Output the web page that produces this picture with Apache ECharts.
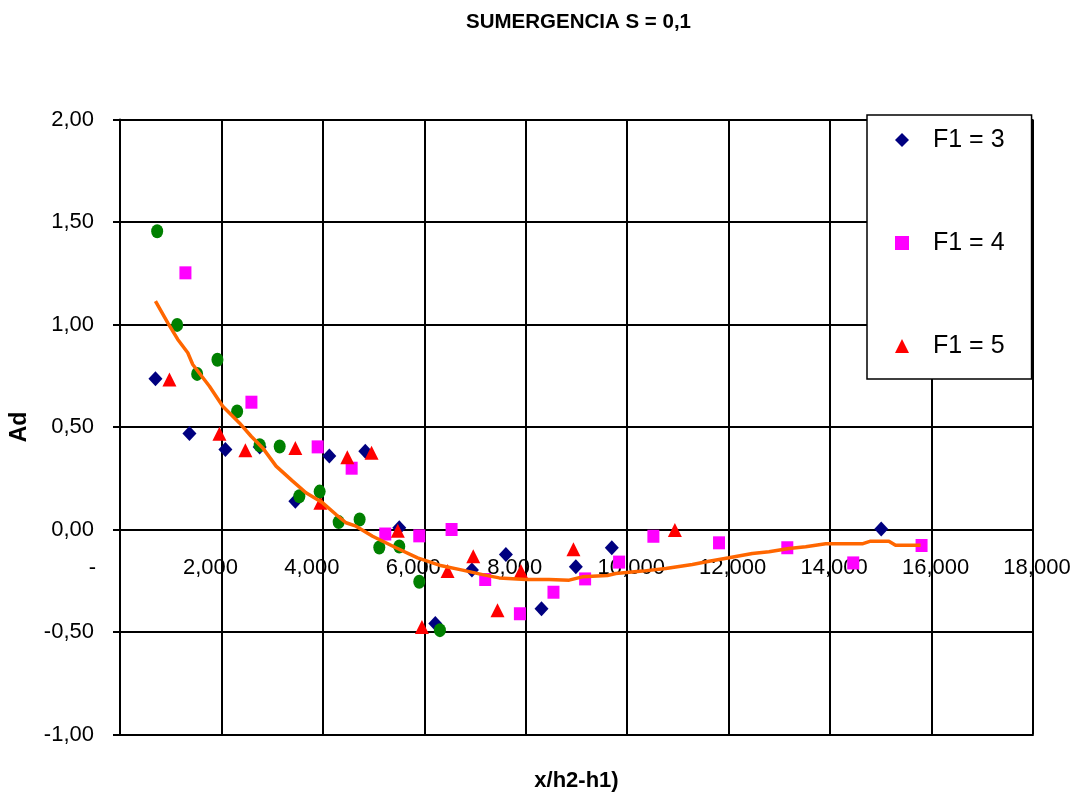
<!DOCTYPE html>
<html>
<head>
<meta charset="utf-8">
<script src="https://cdn.jsdelivr.net/npm/echarts@6/dist/echarts.min.js"></script>
<style>html,body{margin:0;padding:0;background:#fff}#c{width:1074px;height:796px}</style>
</head>
<body>
<div id="c"></div>
<script>
// F1 = 3 (navy diamonds)
var f3X = [699,1369,2078,2754,3457,4127,4836,5506,6216,6938,7608,8310,8987,9696,15008];
var f3Y = [0.735,0.468,0.390,0.403,0.138,0.358,0.382,0.008,-0.459,-0.198,-0.122,-0.387,-0.182,-0.089,0.003];
// F1 = 4 (magenta squares)
var f4X = [1290,2591,3897,4567,5230,5900,6537,7200,7884,8546,9170,9840,10516,11810,13156,14456,15803];
var f4Y = [1.252,0.621,0.403,0.299,-0.022,-0.031,0.0,-0.244,-0.411,-0.306,-0.241,-0.159,-0.033,-0.065,-0.089,-0.163,-0.078];
// F1 = 5 (red triangles)
var f5X = [975,1960,2472,3457,3950,4482,4960,5477,5953,6458,6964,7443,7904,8940,10940];
var f5Y = [0.732,0.467,0.387,0.398,0.130,0.353,0.374,-0.006,-0.475,-0.203,-0.130,-0.394,-0.203,-0.096,-0.002];
// green circles (not in legend)
var gX = [733,1127,1521,1921,2309,2754,3148,3536,3936,4311,4724,5112,5506,5900,6307];
var gY = [1.455,0.998,0.759,0.828,0.576,0.411,0.405,0.162,0.185,0.036,0.049,-0.088,-0.083,-0.255,-0.491];
// orange trend line
var tX = [699,942,1139,1336,1434,1763,2025,2354,2585,2813,3077,3404,3667,3995,4259,4456,4653,4980,5441,5867,6294,6753,7147,7476,8002,8461,8855,9117,9610,9775,10300,10760,11284,11613,12007,12466,12795,13189,13518,13912,14633,14798,15159,15290,15783];
var tY = [1.114,1.008,0.927,0.862,0.805,0.699,0.601,0.520,0.455,0.398,0.309,0.236,0.179,0.130,0.073,0.033,0.016,-0.033,-0.089,-0.138,-0.174,-0.198,-0.220,-0.236,-0.244,-0.244,-0.247,-0.231,-0.224,-0.215,-0.203,-0.190,-0.171,-0.155,-0.138,-0.117,-0.109,-0.093,-0.084,-0.070,-0.070,-0.057,-0.057,-0.077,-0.077];

var legendNames = ['F1 = 3','F1 = 4','F1 = 5'];
var titleText = 'SUMERGENCIA S = 0,1';
var xName = 'x/h2-h1)';
var yName = 'Ad';

function pairs(xs, ys){ return xs.map(function(x,i){ return [x, ys[i]]; }); }
var FONT = 'Liberation Sans, Arial, sans-serif';

var chart = echarts.init(document.getElementById('c'), null, {renderer:'canvas'});
chart.setOption({
  animation: false,
  backgroundColor: '#fff',
  title: {
    text: titleText, left: 466, top: 12, padding: 0,
    textStyle: {fontFamily: FONT, fontWeight: 'bold', fontSize: 20.5, color: '#000'}
  },
  legend: {
    data: legendNames,
    orient: 'vertical',
    left: 867, top: 115,
    padding: [10, 27, 18, 28],
    itemWidth: 14, itemHeight: 14,
    itemGap: 73,
    symbolKeepAspect: true,
    backgroundColor: '#fff',
    borderColor: '#000', borderWidth: 1.5, borderRadius: 0,
    formatter: function(n){ return '{t|' + n + '}'; },
    textStyle: {
      fontFamily: FONT, fontSize: 25, color: '#000', lineHeight: 30,
      rich: {t: {fontFamily: FONT, fontSize: 25, color: '#000', lineHeight: 30, padding: [0, 0, 0, 19]}}
    },
    selectedMode: false
  },
  grid: {left: 120, right: 41, top: 119.5, bottom: 61.5, containLabel: false, outerBoundsMode: 'none'},
  xAxis: {
    type: 'value', min: 0, max: 18000, interval: 2000,
    name: xName, nameLocation: 'middle', nameGap: 35,
    nameTextStyle: {fontFamily: FONT, fontWeight: 'bold', fontSize: 22, color: '#000'},
    axisLine: {show: true, onZero: false, lineStyle: {color: '#000', width: 2}},
    axisTick: {show: false},
    splitLine: {show: true, lineStyle: {color: '#000', width: 2}},
    axisLabel: {
      margin: -178,
      fontFamily: FONT, fontSize: 22, color: '#000',
      formatter: function(v){
        if (v === 0) return '{z|-}';
        var s = v.toLocaleString('en-US');
        return s.length === 5 ? '{a|' + s + '}' : '{b|' + s + '}';
      },
      rich: {
        z: {fontFamily: FONT, fontSize: 22, color: '#000', lineHeight: 22, padding: [0, 55, 0, 0]},
        a: {fontFamily: FONT, fontSize: 22, color: '#000', lineHeight: 22, padding: [0, 22, 0, 0]},
        b: {fontFamily: FONT, fontSize: 22, color: '#000', lineHeight: 22, padding: [0, 0, 0, 8]}
      }
    }
  },
  yAxis: {
    type: 'value', min: -1, max: 2, interval: 0.5,
    name: yName, nameLocation: 'middle', nameGap: 89, nameRotate: 90,
    nameTextStyle: {fontFamily: FONT, fontWeight: 'bold', fontSize: 23, color: '#000'},
    axisLine: {show: true, onZero: false, lineStyle: {color: '#000', width: 2}},
    axisTick: {show: true, length: 7, lineStyle: {color: '#000', width: 2}},
    splitLine: {show: true, lineStyle: {color: '#000', width: 2}},
    axisLabel: {
      margin: 26, fontFamily: FONT, fontSize: 22, color: '#000',
      formatter: function(v){ return v.toFixed(2).replace('.', ','); }
    }
  },
  series: [
    {name: 'F1 = 3', type: 'scatter', symbol: 'diamond', symbolSize: [14,15], symbolKeepAspect: true,
     itemStyle: {color: '#000080', opacity: 1}, data: pairs(f3X, f3Y)},
    {name: 'F1 = 4', type: 'scatter', symbol: 'rect', symbolSize: [12,13], symbolKeepAspect: true,
     itemStyle: {color: '#FF00FF', opacity: 1}, data: pairs(f4X, f4Y)},
    {name: 'F1 = 5', type: 'scatter', symbol: 'triangle', symbolSize: [14,14], symbolKeepAspect: true,
     itemStyle: {color: '#FF0000', opacity: 1}, data: pairs(f5X, f5Y)},
    {name: 'Serie 4', type: 'scatter', symbol: 'circle', symbolSize: [12,14],
     itemStyle: {color: '#008000', opacity: 1}, data: pairs(gX, gY)},
    {name: 'Tendencia', type: 'line', showSymbol: false, symbol: 'none', smooth: false,
     lineStyle: {color: '#FF6600', width: 3.5}, data: pairs(tX, tY), z: 3}
  ]
});
</script>
</body>
</html>
